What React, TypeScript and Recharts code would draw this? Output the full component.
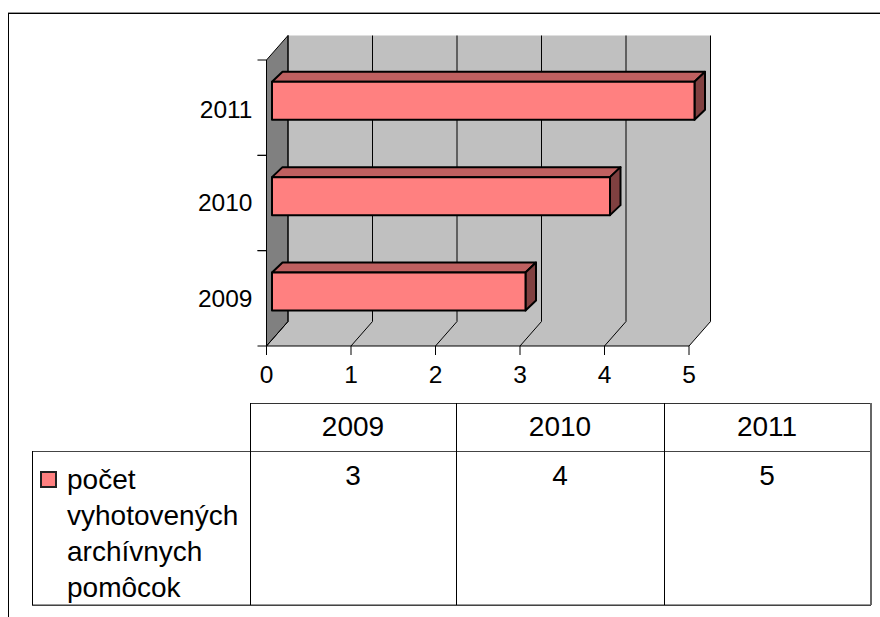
import React from 'react';
import { BarChart, Bar, XAxis, YAxis, CartesianGrid, usePlotArea } from 'recharts';

const years = ['2009', '2010', '2011'];
const counts = [3, 4, 5];
const axisTicks = [0, 1, 2, 3, 4, 5];
const seriesLabel = ['počet', 'vyhotovených', 'archívnych', 'pomôcok'];

const chartData = years.map((year, i) => ({ year, count: counts[i] }));

const DEPTH_X = 21.5;
const DEPTH_Y = 24.5;
const BAR_SHIFT_X = 5.5;
const BAR_SHIFT_Y = -7.2;
const BAR_DX = 10.5;
const BAR_DY = 10;
const FONT = '"Liberation Sans", Arial, sans-serif';

const Walls = () => {
  const plot = usePlotArea();
  if (!plot) return null;
  const { x, y, width, height } = plot;
  const bottom = y + height;
  const right = x + width;
  return (
    <g>
      <rect x={x + DEPTH_X} y={y - DEPTH_Y} width={width} height={height + 1} fill="#c0c0c0" />
      <polygon
        points={`${x},${bottom} ${x + DEPTH_X},${bottom - DEPTH_Y} ${right + DEPTH_X},${bottom - DEPTH_Y} ${right},${bottom}`}
        fill="#c0c0c0"
      />
      <polygon
        points={`${x},${y} ${x + DEPTH_X},${y - DEPTH_Y} ${x + DEPTH_X},${bottom - DEPTH_Y} ${x},${bottom}`}
        fill="#808080"
        stroke="#000"
      />
    </g>
  );
};

// the grid is painted first, so the walls go in with its first line
const GridLine = (props: any) => {
  const { x1, x2, y1, y2, index } = props;
  const top = Math.min(y1, y2);
  const bottom = Math.max(y1, y2);
  const px = Math.min(x1, x2);
  return (
    <g>
      {index === 0 && <Walls />}
      <polyline
        points={`${px},${bottom} ${px + DEPTH_X},${bottom - DEPTH_Y} ${px + DEPTH_X},${top - DEPTH_Y}`}
        fill="none"
        stroke="#000"
        strokeWidth={1}
      />
    </g>
  );
};

// ticks sit on the band edges, the label in the middle of the band
const YearTick = (props: any) => {
  const { x, y, payload, labelNudge } = props;
  const plot = usePlotArea();
  const half = plot ? plot.height / years.length / 2 : 0;
  const axisX = plot ? plot.x : x;
  return (
    <g>
      <line x1={axisX - 9} x2={axisX} y1={y - half} y2={y - half} stroke="#000" />
      <line x1={axisX - 9} x2={axisX} y1={y + half} y2={y + half} stroke="#000" />
      <text x={axisX - 14} y={y + 8 + (labelNudge[payload.value] || 0)} textAnchor="end" fill="#000" fontSize={24.5} fontFamily={FONT}>
        {payload.value}
      </text>
    </g>
  );
};

const Bar3D = (props: any) => {
  const x = props.x + BAR_SHIFT_X;
  const y = props.y + BAR_SHIFT_Y;
  const { width, height } = props;
  const r = x + width;
  const b = y + height;
  return (
    <g stroke="#000" strokeWidth={2} strokeLinejoin="round">
      <polygon
        points={`${x},${y} ${x + BAR_DX},${y - BAR_DY} ${r + BAR_DX},${y - BAR_DY} ${r},${y}`}
        fill="#bf6060"
      />
      <polygon
        points={`${r},${y} ${r + BAR_DX},${y - BAR_DY} ${r + BAR_DX},${b - BAR_DY} ${r},${b}`}
        fill="#804040"
      />
      <rect x={x} y={y} width={width} height={height} fill="#ff8080" />
    </g>
  );
};

const cellText: React.CSSProperties = {
  position: 'absolute',
  fontFamily: FONT,
  fontSize: 28,
  color: '#000',
  lineHeight: '36px',
  textAlign: 'center',
};

const hLine = (left: number, top: number, width: number, color = '#000', h = 1) => (
  <div style={{ position: 'absolute', left, top, width, height: h, background: color }} />
);
const vLine = (left: number, top: number, height: number, color = '#000', w = 1) => (
  <div style={{ position: 'absolute', left, top, width: w, height, background: color }} />
);

const colEdges = [250, 456, 664, 870];

export default function App() {
  return (
    <div style={{ position: 'absolute', left: 0, top: 0, width: 880, height: 617, background: '#fff', overflow: 'hidden' }}>
      {hLine(8, 12, 872, '#999')}
      {hLine(8, 13, 872)}
      {vLine(8, 13, 604)}
      <div style={{ position: 'absolute', left: 0, top: 0 }}>
        <BarChart
          width={880}
          height={400}
          layout="vertical"
          data={chartData}
          barSize={38}
          margin={{ top: 60, left: 0, right: 191, bottom: 0 }}
        >
          <CartesianGrid horizontal={false} vertical={<GridLine />} />
          <XAxis
            type="number"
            domain={[0, 5]}
            ticks={axisTicks}
            interval={0}
            tickSize={9}
            tickMargin={11}
            stroke="#000"
            tick={{ fill: '#000', fontSize: 24.5, fontFamily: FONT }}
            height={54}
          />
          <YAxis
            type="category"
            dataKey="year"
            reversed
            width={266.5}
            tickLine={false}
            stroke="#000"
            tick={<YearTick labelNudge={{ '2011': 2, '2010': 0, '2009': 1 }} />}
          />
          <Bar dataKey="count" isAnimationActive={false} shape={<Bar3D />} />
        </BarChart>
      </div>

      {hLine(250, 403, 621, '#333')}
      {hLine(32, 451, 839, '#444')}
      {hLine(32, 604, 839, '#999')}
      {hLine(32, 605, 839, '#444')}
      {vLine(32, 451, 154)}
      {colEdges.slice(0, 3).map((x) => (
        <React.Fragment key={x}>{vLine(x, 403, 202)}</React.Fragment>
      ))}
      {vLine(870, 403, 202, '#666', 2)}

      {years.map((year, i) => (
        <div key={year} style={{ ...cellText, left: colEdges[i], width: colEdges[i + 1] - colEdges[i], top: 409 }}>
          {year}
        </div>
      ))}
      {counts.map((v, i) => (
        <div key={years[i]} style={{ ...cellText, left: colEdges[i], width: colEdges[i + 1] - colEdges[i], top: 458 }}>
          {v}
        </div>
      ))}

      <div style={{ position: 'absolute', left: 40, top: 471, width: 17, height: 17, boxSizing: 'border-box', background: '#ff8080', border: '2px solid #222' }} />
      {seriesLabel.map((line, i) => (
        <div key={line} style={{ ...cellText, textAlign: 'left', left: 67, top: 462 + i * 36 }}>
          {line}
        </div>
      ))}
    </div>
  );
}
